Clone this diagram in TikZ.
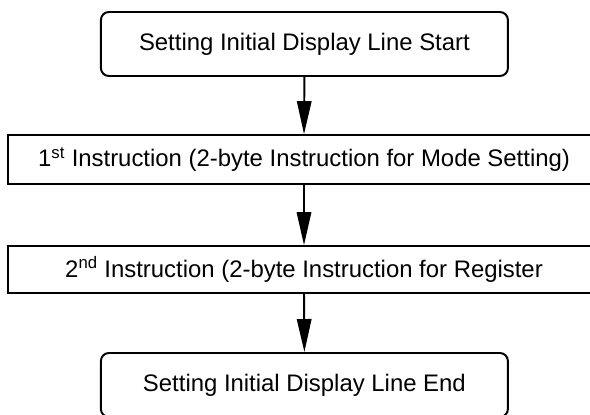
\documentclass[tikz,border=0pt]{standalone}
\usepackage{fontspec}
\setmainfont{Liberation Sans}
\usepackage{tikz}
\usetikzlibrary{arrows.meta,positioning}

\begin{document}
\begin{tikzpicture}[
    line width=1.4pt,
    endbox/.style={draw, rounded corners=0.2cm, minimum width=10.175cm, minimum height=1.6cm, inner sep=0pt},
    instrbox/.style={draw, minimum width=14.8cm, inner sep=0pt},
    flow/.style={-{Triangle[length=0.825cm, width=0.36cm]}, line width=1.4pt},
    font=\fontsize{17}{20}\selectfont
]
    \clip (0, 0) rectangle (14.75, -10.35);
    \useasboundingbox (0, 0) rectangle (14.75, -10.35);

    % Boxes
    \node [endbox] (start) at (7.61, -1.1) {Setting Initial Display Line Start};
    \node [instrbox, minimum height=1.225cm] (first) at (7.6, -3.99) {1\textsuperscript{st} Instruction (2-byte Instruction for Mode Setting)};
    \node [instrbox, minimum height=1.175cm] (second) at (7.6, -6.74) {2\textsuperscript{nd} Instruction (2-byte Instruction for Register};
    \node [endbox] (finish) at (7.61, -9.625) {Setting Initial Display Line End};

    % Arrows
    \draw [flow] (start.south) -- (first.north);
    \draw [flow] (first.south) -- (second.north);
    \draw [flow] (second.south) -- (finish.north);
\end{tikzpicture}
\end{document}
